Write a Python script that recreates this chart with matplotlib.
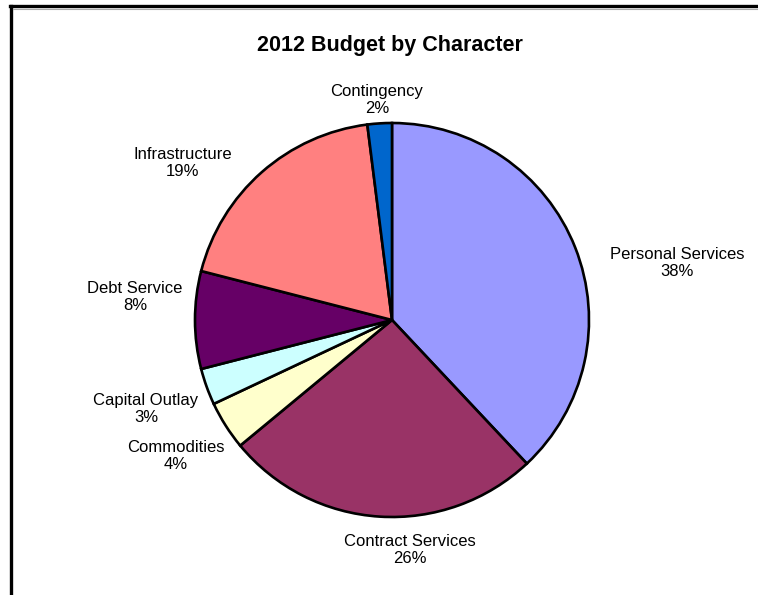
import matplotlib
matplotlib.use("Agg")
import matplotlib.pyplot as plt
from matplotlib.lines import Line2D

plt.rcParams['font.family'] = ['Liberation Sans', 'DejaVu Sans']

# 2012 budget share by character (percent)
categories = ['Personal Services', 'Contract Services', 'Commodities',
              'Capital Outlay', 'Debt Service', 'Infrastructure', 'Contingency']
shares = [38, 26, 4, 3, 8, 19, 2]
colors = ['#9999ff', '#993366', '#ffffcc', '#ccffff', '#660066',
          '#ff8080', '#0066cc']

# where each label sits, in units of the pie radius
label_pos = [(1.447, 0.289), (0.091, -1.168), (-1.096, -0.690),
             (-1.249, -0.452), (-1.305, 0.117), (-1.061, 0.797),
             (-0.076, 1.117)]

W, H = 758, 595
fig = plt.figure(figsize=(W / 100, H / 100), dpi=100)

# pie centre and radius in pixels
cx, cy, r = 392, 320, 197
ax = fig.add_axes([(cx - r) / W, (H - cy - r) / H, 2 * r / W, 2 * r / H])
ax.pie(shares, colors=colors, startangle=90, counterclock=False,
       wedgeprops=dict(edgecolor='black', linewidth=1.9))
ax.set_xlim(-1, 1)
ax.set_ylim(-1, 1)
ax.set_aspect('equal')
ax.axis('off')

for name, pct, (lx, ly) in zip(categories, shares, label_pos):
    ax.text(lx, ly, f"{name}\n{pct}%", ha='center', va='center',
            fontsize=12, linespacing=1.2, clip_on=False)

fig.text(390 / W, 1 - 45 / H, '2012 Budget by Character', ha='center',
         va='center', fontsize=15.5, fontweight='bold')

# chart frame: left and top edges, with a faint shadow under the top
fig.add_artist(Line2D([11 / W, 11 / W], [0, 1 - 6 / H], color='black',
                      linewidth=2.4, transform=fig.transFigure))
fig.add_artist(Line2D([10 / W, 1], [1 - 6 / H, 1 - 6 / H], color='black',
                      linewidth=2.4, transform=fig.transFigure))
fig.add_artist(Line2D([13 / W, 1], [1 - 8.5 / H, 1 - 8.5 / H], color='#aaaaaa',
                      linewidth=0.8, transform=fig.transFigure))

fig.savefig('out.png', dpi=100)
